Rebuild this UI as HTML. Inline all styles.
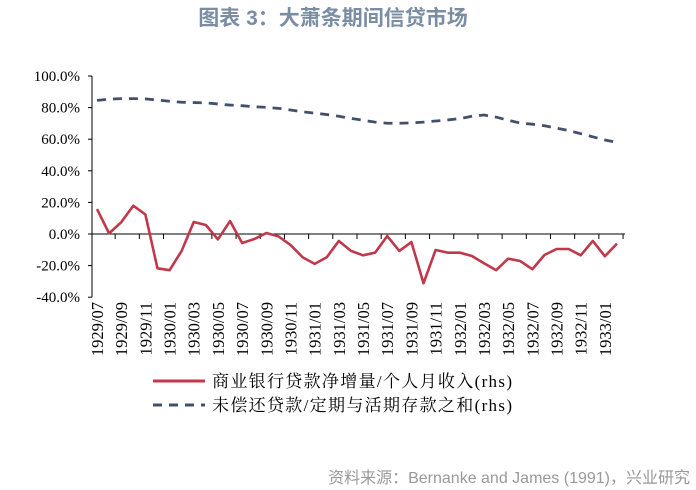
<!DOCTYPE html>
<html><head><meta charset="utf-8">
<style>
body{margin:0;background:#fff;width:696px;height:490px;overflow:hidden;}
svg{display:block;}
</style></head>
<body>
<svg id="chart" width="696" height="490" xmlns="http://www.w3.org/2000/svg">
<text x="333" y="25" text-anchor="middle" font-family="'Liberation Sans','Noto Sans CJK SC',sans-serif" font-size="21" font-weight="bold" fill="#7b8da3">图表 3：大萧条期间信贷市场</text>
<g id="axes"></g>
<g id="series"></g>
<g>
<line x1="153" y1="381" x2="205" y2="381" stroke="#c0394b" stroke-width="3"/>
<text x="212" y="387" textLength="300" lengthAdjust="spacing" font-family="'Liberation Serif','Noto Serif CJK SC',serif" font-size="17" fill="#000">商业银行贷款净增量/个人月收入(rhs)</text>
<line x1="153" y1="405" x2="205" y2="405" stroke="#44506a" stroke-width="3" stroke-dasharray="9,7"/>
<text x="212" y="411" textLength="300" lengthAdjust="spacing" font-family="'Liberation Serif','Noto Serif CJK SC',serif" font-size="17" fill="#000">未偿还贷款/定期与活期存款之和(rhs)</text>
</g>
<text x="690" y="483" text-anchor="end" font-family="'Liberation Sans','Noto Sans CJK SC',sans-serif" font-size="16" fill="#999">资料来源：Bernanke and James (1991)，兴业研究</text>
</svg>
<script>
const months = ["1929/07","1929/08","1929/09","1929/10","1929/11","1929/12","1930/01","1930/02","1930/03","1930/04","1930/05","1930/06","1930/07","1930/08","1930/09","1930/10","1930/11","1930/12","1931/01","1931/02","1931/03","1931/04","1931/05","1931/06","1931/07","1931/08","1931/09","1931/10","1931/11","1931/12","1932/01","1932/02","1932/03","1932/04","1932/05","1932/06","1932/07","1932/08","1932/09","1932/10","1932/11","1932/12","1933/01","1933/02"];
const loanGrowth = [15.8,0.4,7.4,17.9,12.4,-21.7,-22.9,-10.7,7.6,5.7,-3.4,8.2,-5.7,-3.2,0.6,-1.5,-6.9,-14.7,-18.9,-14.7,-4.4,-10.7,-13.5,-11.8,-1.3,-10.7,-5.1,-31.2,-10.1,-11.8,-11.8,-13.9,-18.5,-22.9,-15.6,-17.1,-22.3,-13.3,-9.5,-9.5,-13.5,-4.4,-14.1,-6.1];
const loanDeposit = [84.6,85.3,85.7,85.7,85.5,84.8,84,83.4,83.2,83,82.3,81.6,81.2,80.5,80.2,79.5,78.5,77.3,76.5,75.6,74.5,73.2,72,70.8,70.1,70.1,70.3,70.8,71.5,72.2,73,74.5,75.3,74,72,70.2,69.5,68.5,67,65.5,63.5,61.5,59.5,58];
const yTicks = [100,80,60,40,20,0,-20,-40];

const NS="http://www.w3.org/2000/svg";
const x0=97, step=(617-97)/43;
const xs=i=>x0+i*step;
const ys=v=>234-v*31.6/20;
const axes=document.getElementById('axes');
const ser=document.getElementById('series');
function mk(tag,attrs,parent){const e=document.createElementNS(NS,tag);for(const k in attrs)e.setAttribute(k,attrs[k]);parent.appendChild(e);return e;}

const yax=mk('line',{x1:92,y1:ys(100),x2:92,y2:ys(-40),stroke:'#000','stroke-width':1},axes);


yTicks.forEach(v=>{
  const t=mk('line',{x1:88,y1:ys(v),x2:92,y2:ys(v),stroke:'#000'},axes);
  
  
  const l=mk('text',{x:80,y:ys(v)+5,'text-anchor':'end','font-family':"'Liberation Serif',serif",'font-size':15},axes);
  l.textContent=v.toFixed(1)+'%';
  
  
});
const xax=mk('line',{x1:92,y1:ys(0),x2:625,y2:ys(0),stroke:'#000','stroke-width':1},axes);


for(let i=0;i<months.length;i+=2){
  const tx=xs(i)+step*1.5;
  if(tx<626){
    const t=mk('line',{x1:tx,y1:ys(0),x2:tx,y2:ys(0)+5,stroke:'#000'},axes);
    
    
  }
  if(i<months.length-1){
    const lx=xs(i)+6, ly=302;
    const l=mk('text',{x:lx,y:ly,'text-anchor':'end','font-family':"'Liberation Serif',serif",'font-size':16.5,transform:`rotate(-90 ${lx} ${ly})`},axes);
    l.textContent=months[i];
    
    
  }
}
const p1=mk('polyline',{points:loanGrowth.map((v,i)=>xs(i)+','+ys(v)).join(' '),fill:'none',stroke:'#c0394b','stroke-width':2.6,'stroke-linejoin':'round'},ser);


const p2=mk('polyline',{points:loanDeposit.map((v,i)=>xs(i)+','+ys(v)).join(' '),fill:'none',stroke:'#44506a','stroke-width':2.8,'stroke-dasharray':'9,7'},ser);


</script>
</body></html>
